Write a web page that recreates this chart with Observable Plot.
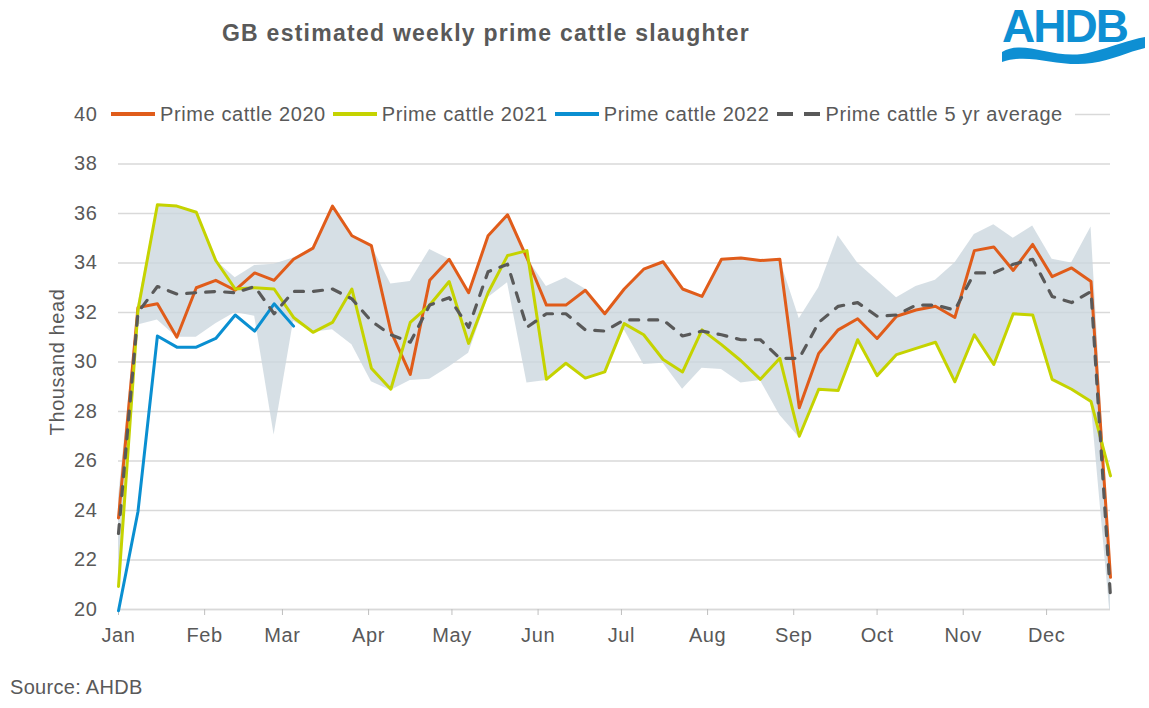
<!DOCTYPE html>
<html><head><meta charset="utf-8">
<script src="https://cdn.jsdelivr.net/npm/d3@7"></script>
<script src="https://cdn.jsdelivr.net/npm/@observablehq/plot@0.6"></script>
<style>
body{margin:0;background:#fff;}
#wrap{position:relative;width:1149px;height:708px;font-family:"Liberation Sans",Arial,sans-serif;color:#595959;overflow:hidden;background:#fff}
#title{position:absolute;left:136px;width:700px;top:20px;text-align:center;font-weight:bold;font-size:23px;line-height:26px;letter-spacing:1.25px}
#legend{position:absolute;top:103px;left:110px;height:22px;background:#fff;display:flex;align-items:center;font-size:20px;padding-right:6px;letter-spacing:0.6px;white-space:nowrap}
.item{display:flex;align-items:center;margin-right:6px}
.item svg{margin-right:4px}
#source{position:absolute;left:10px;top:676px;font-size:20px;letter-spacing:0.3px}
#chart{position:absolute;left:0;top:70px}
#logo{position:absolute;left:1000px;top:2px}
</style></head>
<body><div id="wrap">
<div id="title">GB estimated weekly prime cattle slaughter</div>
<div id="logo"><svg width="149" height="64" viewBox="0 0 149 64" style="overflow:visible">
<text x="2" y="40" font-family="Liberation Sans, Arial, sans-serif" font-weight="bold" font-size="46" fill="#0E8FD3" letter-spacing="-2">AHDB</text>
<path d="M2,50 C25,36 55,60 92,50 C112,45 128,38 145,35 L145,46 C128,50 112,58 92,61 C58,66 30,50 2,60 Z" fill="#0E8FD3"/>
</svg></div>
<div id="chart"></div>
<div id="legend"></div>
<div id="source">Source: AHDB</div>
</div>
<script>
// ---- data ----
const monthLabels = ["Jan","Feb","Mar","Apr","May","Jun","Jul","Aug","Sep","Oct","Nov","Dec"];
const weekNumbers = [1,2,3,4,5,6,7,8,9,10,11,12,13,14,15,16,17,18,19,20,21,22,23,24,25,26,27,28,29,30,31,32,33,34,35,36,37,38,39,40,41,42,43,44,45,46,47,48,49,50,51,52];
const cattle2020 = [23.7,32.2,32.35,31.0,33.0,33.3,32.9,33.6,33.3,34.15,34.6,36.3,35.1,34.7,31.25,29.5,33.3,34.15,32.8,35.1,35.95,34.2,32.3,32.3,32.9,31.95,32.95,33.75,34.05,32.95,32.65,34.15,34.2,34.1,34.15,28.15,30.35,31.3,31.75,30.95,31.85,32.1,32.25,31.8,34.5,34.65,33.7,34.75,33.45,33.8,33.25,21.3];
const cattle2021 = [20.93,32.1,36.35,36.3,36.05,34.1,32.95,33.0,32.95,31.8,31.2,31.6,32.95,29.75,28.9,31.6,32.3,33.25,30.75,32.8,34.3,34.5,29.3,29.95,29.35,29.6,31.55,31.1,30.1,29.6,31.3,30.7,30.05,29.3,30.15,27.0,28.9,28.85,30.9,29.45,30.3,30.55,30.8,29.2,31.1,29.9,31.95,31.9,29.3,28.9,28.4,25.4];
const cattle2022 = [19.95,23.95,31.05,30.6,30.6,30.95,31.9,31.25,32.35,31.45];
const avg5yr = [23.07,32.0,33.05,32.75,32.8,32.85,32.8,33.05,31.95,32.85,32.85,32.95,32.55,31.65,31.1,30.8,32.3,32.6,31.4,33.65,33.95,31.4,31.95,31.95,31.3,31.25,31.7,31.7,31.7,31.05,31.25,31.1,30.9,30.9,30.15,30.15,31.6,32.25,32.4,31.85,31.9,32.3,32.3,32.1,33.6,33.6,33.95,34.15,32.65,32.4,32.85,20.5];
const rangeLow = [20.9,31.5,31.7,31.0,31.0,31.55,32.0,31.85,27.05,31.65,31.2,31.3,30.7,29.2,28.85,29.25,29.3,29.8,30.35,32.6,33.2,29.15,29.25,29.95,29.35,29.55,31.3,29.9,29.95,28.9,29.75,29.7,29.15,29.25,27.85,26.95,28.9,28.85,30.85,29.4,30.25,30.5,30.75,29.15,31.05,29.85,31.9,31.85,29.25,28.85,28.35,19.6];
const rangeHigh = [24.5,32.3,36.35,36.3,36.05,34.1,33.4,33.9,33.95,34.2,34.6,36.3,35.1,34.7,33.15,33.25,34.55,34.15,32.85,35.1,35.95,34.2,33.05,33.4,32.95,31.95,32.95,33.75,34.05,32.95,32.65,34.15,34.2,34.1,34.15,31.75,33.0,35.1,34.0,33.3,32.6,33.05,33.3,34.0,35.15,35.55,35.0,35.5,34.15,34.0,35.45,21.6];
const yTicks = [20,22,24,26,28,30,32,34,36,38,40];

const series = [
  {name:"Prime cattle 2020", key:"c2020", color:"#E05C1A", dash:null},
  {name:"Prime cattle 2021", key:"c2021", color:"#C5D300", dash:null},
  {name:"Prime cattle 2022", key:"c2022", color:"#0A8FD1", dash:null},
  {name:"Prime cattle 5 yr average", key:"avg", color:"#595959", dash:"9,10"}
];

// ---- build table ----
const yearStart = new Date(Date.UTC(2021,0,1));
const weekDate = w => d3.utcDay.offset(yearStart, 7*(w-1));
const rows = weekNumbers.map((w,i) => ({
  date: weekDate(w), c2020: cattle2020[i], c2021: cattle2021[i], avg: avg5yr[i],
  c2022: i < cattle2022.length ? cattle2022[i] : null, low: rangeLow[i], high: rangeHigh[i]
}));
const rows2022 = rows.filter(r => r.c2022 != null);
const xEnd = weekDate(weekNumbers[weekNumbers.length-1]);
const monthStarts = d3.utcMonths(yearStart, xEnd);

const font = '"Liberation Sans", Arial, sans-serif';
const chart = Plot.plot({
  width:1149, height:590, marginLeft:118, marginRight:39, marginTop:44, marginBottom:51,
  style:{fontFamily:font, fontSize:"20px", color:"#595959", background:"transparent", overflow:"visible", letterSpacing:"0.6px"},
  x:{type:"utc", domain:[yearStart, xEnd]},
  y:{domain:[20,40]},
  marks:[
    Plot.gridY(yTicks, {stroke:"#d9d9d9", strokeOpacity:1, strokeWidth:1.3}),
    Plot.areaY(rows, {x:"date", y1:"low", y2:"high", fill:"#cbd6de", fillOpacity:0.78, clip:true}),
    Plot.ruleY([20], {stroke:"#d9d9d9", strokeWidth:1.5}),
    Plot.axisY(yTicks, {tickSize:0, tickPadding:21, label:null, fill:"#595959", fontSize:20}),
    Plot.axisX(monthStarts, {tickSize:6, tickPadding:12, stroke:"#bfbfbf", fill:"#595959", fontSize:20,
      tickFormat: d => monthLabels[d.getUTCMonth()], label:null}),
    Plot.lineY(rows, {x:"date", y:"c2020", stroke:series[0].color, strokeWidth:3}),
    Plot.lineY(rows, {x:"date", y:"c2021", stroke:series[1].color, strokeWidth:3}),
    Plot.lineY(rows2022, {x:"date", y:"c2022", stroke:series[2].color, strokeWidth:3}),
    Plot.lineY(rows, {x:"date", y:"avg", stroke:series[3].color, strokeWidth:3.2, strokeDasharray:series[3].dash, strokeLinecap:"round"}),
    Plot.text(["Thousand head"], {frameAnchor:"left", textAnchor:"middle", dx:-61, rotate:-90, fontSize:20, fill:"#595959"})
  ]
});
document.getElementById("chart").appendChild(chart);

// ---- legend ----
const legend = document.getElementById("legend");
series.forEach(s => {
  const item = document.createElement("div");
  item.className = "item";
  const dash = s.dash ? ` stroke-dasharray="16,11"` : "";
  item.innerHTML = `<svg width="46" height="10"><line x1="1" y1="5" x2="45" y2="5" stroke="${s.color}" stroke-width="4"${dash}/></svg><span>${s.name}</span>`;
  legend.appendChild(item);
});
</script>
</body></html>
